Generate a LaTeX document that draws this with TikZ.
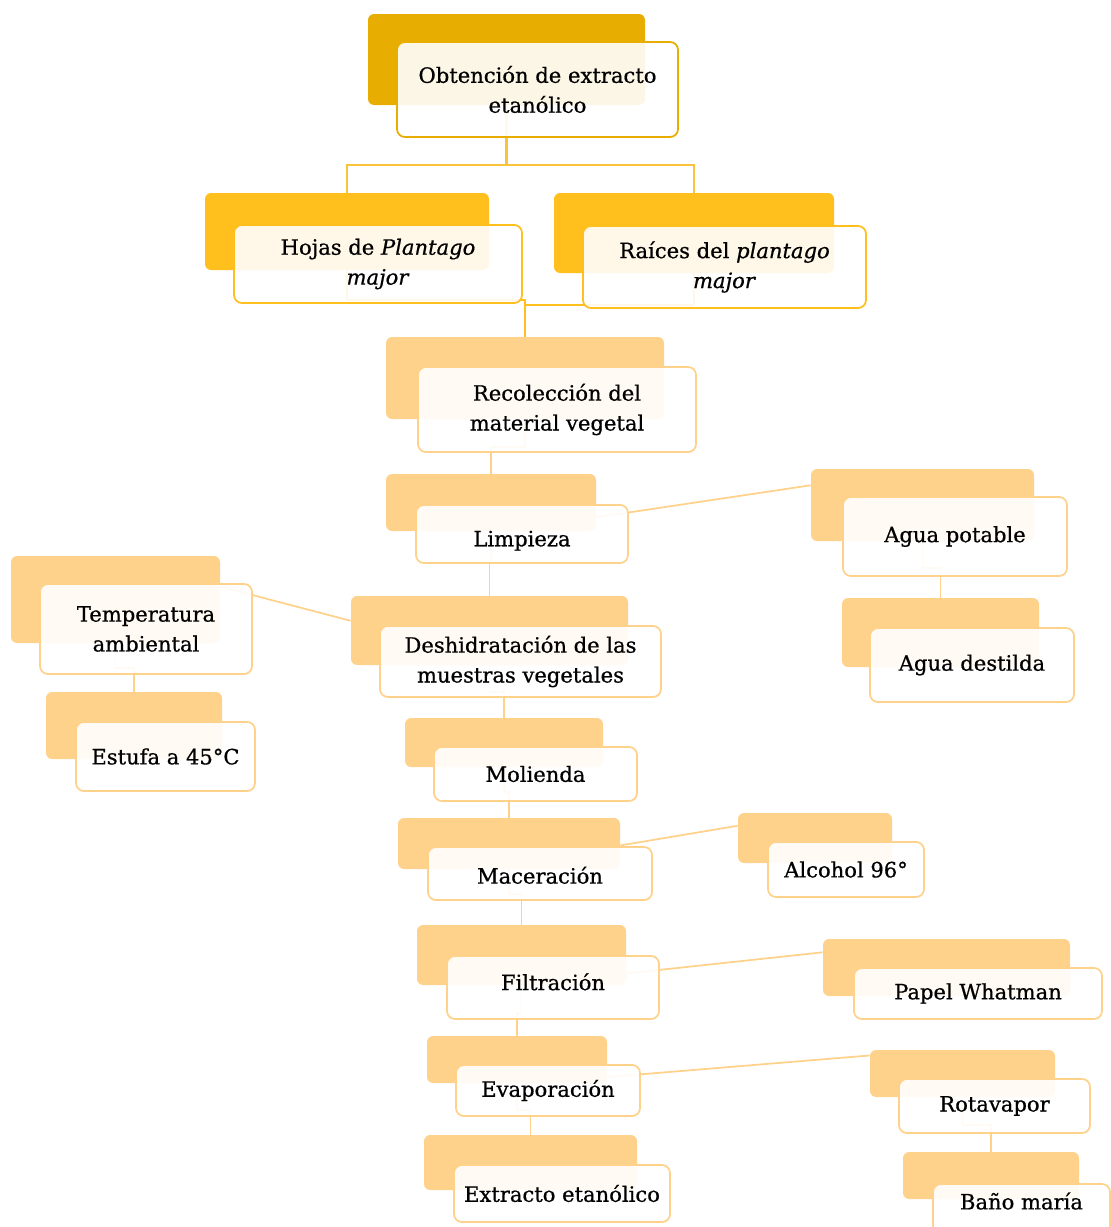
\documentclass[tikz,border=0pt]{standalone}
\usepackage{fontspec}
\setmainfont{DejaVu Serif}[FakeBold=0.7, ItalicFeatures={FakeBold=0.7}]
\usepackage{tikz}
\definecolor{goldone}{RGB}{231,173,0}
\definecolor{goldtwo}{RGB}{255,192,30}
\definecolor{peach}{RGB}{255,210,140}
\definecolor{linkgold}{RGB}{250,195,60}
\tikzset{
  boxsize/.style 2 args={minimum width=#1*0.02cm, minimum height=#2*0.02cm},
  textlift/.style 2 args={text height=#1pt, text depth=#2pt},
}

\begin{document}
\begin{tikzpicture}[
  x=0.02cm, y=-0.02cm,
  backbox/.style={inner sep=0pt, rounded corners=3.5pt},
  backone/.style={backbox, fill=goldone},
  backtwo/.style={backbox, fill=goldtwo},
  backthree/.style={backbox, fill=peach},
  frontbox/.style={inner sep=0pt, rounded corners=4.5pt, fill=white, fill opacity=0.9,
    text opacity=1, line width=1pt, align=center, font=\fontsize{12}{17}\selectfont},
  frontone/.style={frontbox, draw=goldone},
  fronttwo/.style={frontbox, draw=goldtwo},
  frontthree/.style={frontbox, draw=peach},
  linktop/.style={line width=1.2pt, linkgold},
  linktwo/.style={line width=1pt, goldtwo},
  link/.style={line width=1pt, peach},
]
  % Frame (image size, in px)
  \useasboundingbox (0,0) rectangle (1111,1227);
  \clip (0,0) rectangle (1111,1227);

  % Back boxes
  \node[backone, boxsize={277}{91}] (obtencionB) at (506.5,59.5) {};
  \node[backtwo, boxsize={284}{77}] (hojasB) at (347,231.5) {};
  \node[backtwo, boxsize={280}{80}] (raicesB) at (694,233) {};
  \node[backthree, boxsize={278}{82}] (recoleccionB) at (525,378) {};
  \node[backthree, boxsize={210}{57}] (limpiezaB) at (491,502.5) {};
  \node[backthree, boxsize={223}{72}] (potableB) at (922.5,505) {};
  \node[backthree, boxsize={197}{69}] (destiladaB) at (940.5,632.5) {};
  \node[backthree, boxsize={277}{69}] (deshidratB) at (489.5,630.5) {};
  \node[backthree, boxsize={209}{87}] (temperaturaB) at (115.5,599.5) {};
  \node[backthree, boxsize={176}{67}] (estufaB) at (134,725.5) {};
  \node[backthree, boxsize={198}{49}] (moliendaB) at (504,742.5) {};
  \node[backthree, boxsize={222}{51}] (maceracionB) at (509,843.5) {};
  \node[backthree, boxsize={154}{50}] (alcoholB) at (815,838) {};
  \node[backthree, boxsize={209}{60}] (filtracionB) at (521.5,955) {};
  \node[backthree, boxsize={247}{57}] (whatmanB) at (946.5,967.5) {};
  \node[backthree, boxsize={180}{47}] (evaporacionB) at (517,1059.5) {};
  \node[backthree, boxsize={185}{47}] (rotavaporB) at (962.5,1073.5) {};
  \node[backthree, boxsize={176}{47}] (banoB) at (991,1175.5) {};
  \node[backthree, boxsize={213}{55}] (extractoB) at (530.5,1162.5) {};

  % Connectors (behind the front boxes)
  \draw[linktop] (obtencionB.south) -- ++(0,60) -| (hojasB.north);
  \draw[linktop] (obtencionB.south) -- ++(0,60) -| (raicesB.north);
  \draw[linktwo] (hojasB.south) -- ++(0,30) -| (recoleccionB.north);
  \draw[linktwo] (raicesB.south) -- ++(0,32) -| (recoleccionB.north);

  \draw[link] (recoleccionB.south) -- ++(0,28) -| (limpiezaB.north);
  \draw[link] (limpiezaB.south) -- ++(0,32) -| (deshidratB.north);
  \draw[link] (deshidratB.south) -- ++(0,27) -| (moliendaB.north);
  \draw[link] (moliendaB.south) -- ++(0,25) -| (maceracionB.north);
  \draw[link] (maceracionB.south) -- ++(0,25) -| (filtracionB.north);
  \draw[link] (filtracionB.south) -- ++(0,28) -| (evaporacionB.north);
  \draw[link] (evaporacionB.south) -- ++(0,27) -| (extractoB.north);
  \draw[link] (temperaturaB.south) -- ++(0,25) -| (estufaB.north);
  \draw[link] (potableB.south) -- ++(0,27) -| (destiladaB.north);
  \draw[link] (rotavaporB.south) -- ++(0,28) -| (banoB.north);

  % side branches
  \draw[link] (limpiezaB.-8) -- (potableB.170);
  \draw[link] (temperaturaB.7) -- (deshidratB.176);
  \draw[link] (maceracionB.-1) -- (alcoholB.171);
  \draw[link] (filtracionB.-10) -- (whatmanB.173);
  \draw[link] (evaporacionB.-11) -- (rotavaporB.169);

  % Front boxes
  \node[frontone, boxsize={281}{95}] (obtencion) at (537.5,89.5) {Obtención de extracto\\etanólico};
  \node[fronttwo, boxsize={288}{78}] (hojas) at (378,264) {Hojas de \textit{Plantago}\\\textit{major}};
  \node[fronttwo, boxsize={283}{82}] (raices) at (724.5,267) {Raíces del \textit{plantago}\\\textit{major}};
  \node[frontthree, boxsize={278}{85}] (recoleccion) at (557,409.5) {Recolección del\\material vegetal};
  \node[frontthree, boxsize={212}{58}, textlift={17}{3}] (limpieza) at (522,534) {Limpieza};
  \node[frontthree, boxsize={224}{79}] (potable) at (955,536.5) {Agua potable};
  \node[frontthree, boxsize={204}{74}] (destilada) at (972,665) {Agua destilda};
  \node[frontthree, boxsize={281}{71}] (deshidrat) at (520.5,661.5) {Deshidratación de las\\muestras vegetales};
  \node[frontthree, boxsize={212}{90}] (temperatura) at (146,629) {Temperatura\\ambiental};
  \node[frontthree, boxsize={179}{69}] (estufa) at (165.5,756.5) {Estufa a 45°C};
  \node[frontthree, boxsize={203}{54}] (molienda) at (535.5,774) {Molienda};
  \node[frontthree, boxsize={224}{53}, textlift={14.5}{3}] (maceracion) at (540,873.5) {Maceración};
  \node[frontthree, boxsize={156}{55}] (alcohol) at (846,869.5) {Alcohol 96°};
  \node[frontthree, boxsize={212}{63}, textlift={9}{6}] (filtracion) at (553,987.5) {Filtración};
  \node[frontthree, boxsize={248}{51}] (whatman) at (978,993.5) {Papel Whatman};
  \node[frontthree, boxsize={184}{51}] (evaporacion) at (548,1090.5) {Evaporación};
  \node[frontthree, boxsize={191}{54}] (rotavapor) at (994.5,1106) {Rotavapor};
  \node[frontthree, boxsize={177}{56}, textlift={9}{12}] (bano) at (1021.5,1212) {Baño maría};
  \node[frontthree, boxsize={216}{57}] (extracto) at (562,1193.5) {Extracto etanólico};

\end{tikzpicture}
\end{document}
